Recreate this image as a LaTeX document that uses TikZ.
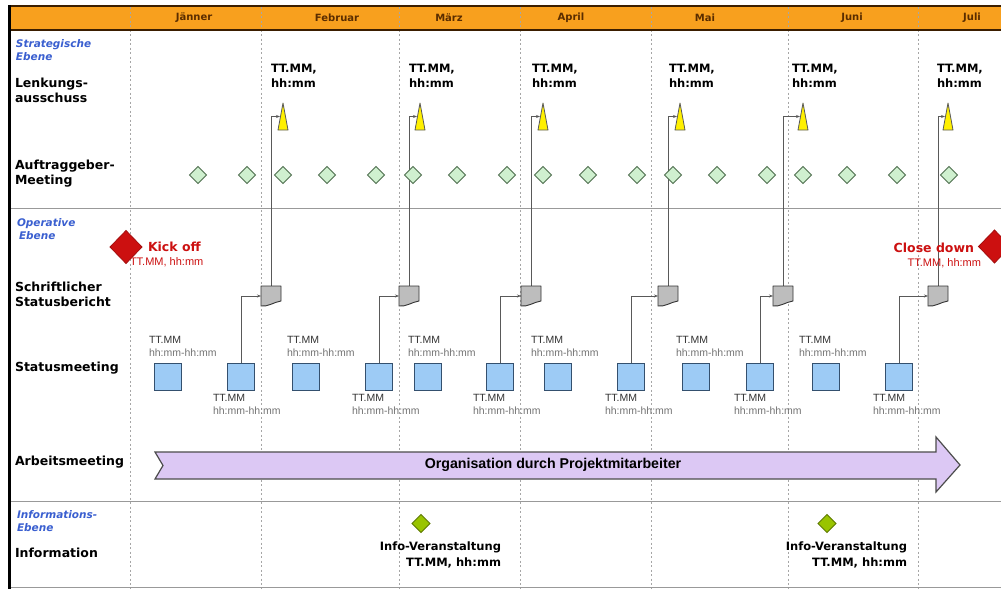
\documentclass[tikz,border=0pt]{standalone}
\usepackage{fontspec}
\setmainfont{DejaVu Sans}
\newfontfamily\arialf{Liberation Sans}
\usetikzlibrary{shapes.geometric,arrows.meta,backgrounds}

\definecolor{hdrfill}{HTML}{F8A01E}
\definecolor{hdrline}{HTML}{3B1E00}
\definecolor{monthtxt}{HTML}{5A2D00}
\definecolor{levelblue}{HTML}{3A5FD0}
\definecolor{kickred}{HTML}{CC1010}
\definecolor{lavender}{HTML}{DCC8F4}
\definecolor{boxblue}{HTML}{9DCBF5}
\definecolor{boxedge}{HTML}{34506E}
\definecolor{paleGreen}{HTML}{CFF0CF}
\definecolor{paleGreenEdge}{HTML}{4F6F4F}
\definecolor{infoGreen}{HTML}{99C400}
\definecolor{infoGreenEdge}{HTML}{5E7A00}
\definecolor{flagYellow}{HTML}{FFF000}
\definecolor{repGray}{HTML}{BDBDBD}

\begin{document}
\begin{tikzpicture}[x=1pt,y=-1pt,
  every node/.style={inner sep=0pt,outer sep=0pt},
  month/.style={font=\fontsize{10}{12}\selectfont\bfseries,text=monthtxt},
  rowlabel/.style={anchor=west,align=left,font=\fontsize{12.5}{15}\selectfont\bfseries},
  levellabel/.style={anchor=west,align=left,text=levelblue,font=\fontsize{10.5}{13.5}\selectfont\bfseries\itshape},
  divider/.style={draw=gray!70,line width=0.8pt,dash pattern=on 2pt off 2.5pt},
  sepline/.style={draw=gray!80,line width=0.9pt},
  amtg/.style={diamond,draw=paleGreenEdge,fill=paleGreen,line width=0.9pt,minimum width=17pt,minimum height=17pt},
  smbox/.style={rectangle,draw=boxedge,fill=boxblue,line width=1pt,minimum size=27pt},
  repbox/.style={rectangle,minimum width=20pt,minimum height=20pt},
  repshape/.style={draw=black!80,fill=repGray,line width=0.9pt,line join=round},
  tribox/.style={rectangle,minimum width=10pt,minimum height=27pt},
  trishape/.style={draw=black!65,fill=flagYellow,line width=0.8pt,line join=round},
  conn/.style={draw=black!65,line width=0.8pt,-{Stealth[length=4pt,width=3pt]}},
  datebold/.style={anchor=west,align=left,font=\fontsize{11.5}{15}\selectfont\bfseries},
  smalltt/.style={anchor=west,text=black!80,font=\arialf\fontsize{10.5}{12}\selectfont},
  smallhh/.style={anchor=west,text=black!55,font=\arialf\fontsize{10.5}{12}\selectfont},
  bigdia/.style={diamond,draw=kickred!80!black,fill=kickred,line width=0.8pt,minimum width=32pt,minimum height=33pt},
  kicktxt/.style={text=kickred,font=\fontsize{12.5}{15}\selectfont\bfseries},
  kickdate/.style={text=kickred,font=\arialf\fontsize{11}{13}\selectfont},
  infodia/.style={diamond,draw=infoGreenEdge,fill=infoGreen,line width=0.8pt,minimum width=18pt,minimum height=18pt},
  infotxt/.style={anchor=east,align=right,font=\fontsize{11.5}{15.5}\selectfont\bfseries}
]
\useasboundingbox (0,0) rectangle (1001,589);

\begin{pgfonlayer}{background}
  \fill[white] (0,0) rectangle (1001,589);
  % header band
  \fill[hdrfill] (8,6) rectangle (1001,30);
  % month dividers
  \foreach \x in {130,261,399,520,651,788,918}
    \draw[divider] (\x,7) -- (\x,589);
  \draw[hdrline,line width=2pt] (8,6) -- (1001,6);
  \draw[hdrline,line width=2pt] (8,30) -- (1001,30);
  % section separators
  \draw[sepline] (10,208) -- (1001,208);
  \draw[sepline] (10,501) -- (1001,501);
  \draw[sepline] (10,587) -- (1001,587);
  % left border
  \draw[black,line width=3pt] (9.5,5) -- (9.5,589);
\end{pgfonlayer}

% month names
\node[month] (m1) at (194,18) {Jänner};
\node[month] (m2) at (337,18) {Februar};
\node[month] (m3) at (449,18) {März};
\node[month] (m4) at (571,18) {April};
\node[month] (m5) at (705,18) {Mai};
\node[month] (m6) at (852,18) {Juni};
\node[month] (m7) at (972,18) {Juli};

% row labels
\node[levellabel] (lv1) at (16,50) {Strategische\\Ebene};
\node[rowlabel] (rl1) at (15,90.5) {Lenkungs-\\ausschuss};
\node[rowlabel] (rl2) at (15,173.5) {Auftraggeber-\\Meeting};
\node[levellabel] (lv2) at (17,229) {Operative\\\hspace*{2pt}Ebene};
\node[rowlabel] (rl3) at (15,294.5) {Schriftlicher\\Statusbericht};
\node[rowlabel] (rl4) at (15,368) {Statusmeeting};
\node[rowlabel] (rl5) at (15,462) {Arbeitsmeeting};
\node[levellabel] (lv3) at (17,521) {Informations-\\Ebene};
\node[rowlabel] (rl6) at (15,553) {Information};

% steering committee dates
\foreach \x [count=\i] in {271,409,532,669,792,937}
  \node[datebold] (ld\i) at (\x,75.5) {TT.MM,\\hh:mm};

% steering committee flags
\foreach \x [count=\i] in {283,420,543,680,803,948}{
  \node[tribox] (t\i) at (\x,116.5) {};
  \draw[trishape] (t\i.south west) -- (t\i.north) -- (t\i.south east) -- cycle;
}

% client meetings
\foreach \x [count=\i] in {198,247,283,327,376,413,457,507,543,588,637,673,717,767,803,847,897,949}
  \node[amtg] (a\i) at (\x,175) {};

% kick off / close down
\node[bigdia] (ko) at (126,247) {};
\node[kicktxt,anchor=west] (kot) at (148,247) {Kick off};
\node[kickdate,anchor=west] (kod) at (130,262) {TT.MM, hh:mm};
\node[bigdia] (cd) at (994.5,246.5) {};
\node[kicktxt,anchor=east] (cdt) at (974,247.5) {Close down};
\node[kickdate,anchor=east] (cdd) at (981,263) {TT.MM, hh:mm};

% written status reports
\foreach \x [count=\i] in {271,409,531,668,783,938}{
  \node[repbox] (r\i) at (\x,296) {};
  \draw[repshape] (r\i.south west) -- (r\i.north west) -- (r\i.north east)
    -- ([yshift=5pt]r\i.south east)
    .. controls ([xshift=-7pt,yshift=4pt]r\i.south east) and ([xshift=7pt,yshift=-1pt]r\i.south west) .. (r\i.south west) -- cycle;
}

% status meetings
\foreach \x [count=\i] in {168,241,306,379,428,500,558,631,696,760,826,899}
  \node[smbox] (s\i) at (\x,377) {};

% date labels above the free status meetings
\foreach \x [count=\i] in {149,287,408,531,676,799}{
  \node[smalltt] (ua\i) at (\x,340) {TT.MM};
  \node[smallhh] (ub\i) at (\x,353) {hh:mm-hh:mm};
}
% date labels below the reporting status meetings
\foreach \x [count=\i] in {213,352,473,605,734,873}{
  \node[smalltt] (la\i) at (\x,398) {TT.MM};
  \node[smallhh] (lb\i) at (\x,411) {hh:mm-hh:mm};
}

% working meetings band
\draw[draw=black!70,fill=lavender,line width=1.2pt,line join=miter]
  (155,452) -- (936,452) -- (936,437) -- (960,465) -- (936,492) -- (936,479)
  -- (155,479) -- (163,465.5) -- cycle;
\node[font=\arialf\fontsize{14.2}{16}\selectfont\bfseries] (org) at (553,464.5)
  {Organisation durch Projektmitarbeiter};

% information events
\node[infodia] (i1) at (421,523.5) {};
\node[infotxt] (it1) at (501,555) {Info-Veranstaltung\\TT.MM, hh:mm};
\node[infodia] (i2) at (827,523.5) {};
\node[infotxt] (it2) at (907,555) {Info-Veranstaltung\\TT.MM, hh:mm};

% reporting chain: status meeting -> report -> steering committee
\begin{pgfonlayer}{background}
  \foreach \b/\i in {2/1,4/2,6/3,8/4,10/5,12/6}{
    \draw[conn] (s\b.north) |- (r\i.west);
    \draw[conn] (r\i.north) |- ([xshift=-3pt]t\i.center);
  }
\end{pgfonlayer}
\end{tikzpicture}
\end{document}
